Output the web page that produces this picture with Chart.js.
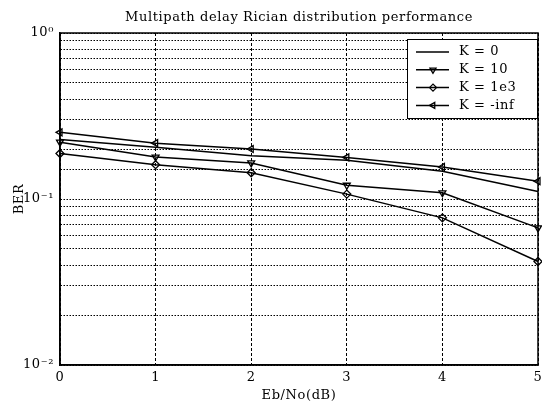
<!DOCTYPE html>
<html>
<head>
<meta charset="utf-8">
<script src="https://cdn.jsdelivr.net/npm/chart.js@4.4.0/dist/chart.umd.min.js"></script>
<style>
  html, body { margin: 0; padding: 0; background: #fff; overflow: hidden; }
  #wrap { width: 542px; height: 403px; overflow: hidden; }
  #box { width: 560px; height: 403px; }
</style>
</head>
<body>
<div id="wrap"><div id="box"><canvas id="c"></canvas></div></div>
<script>
// Eb/No in dB
const ebno = [0, 1, 2, 3, 4, 5];
// BER for each K value
const berK0 = [0.228, 0.205, 0.182, 0.171, 0.147, 0.111];
const berK10 = [0.220, 0.179, 0.165, 0.121, 0.109, 0.067];
const berK1e3 = [0.188, 0.161, 0.144, 0.107, 0.077, 0.042];
const berKinf = [0.252, 0.217, 0.200, 0.178, 0.156, 0.128];
const seriesNames = ['K = 0', 'K = 10', 'K = 1e3', 'K = -inf'];
const yTickLabels = { 1: '10\u2070', 0.1: '10\u207B\u00B9', 0.01: '10\u207B\u00B2' };

const serif = '"DejaVu Serif", "Liberation Serif", serif';
const spacing = '0.6px';

function pts(ys) { return ys.map((y, i) => ({ x: ebno[i], y: y })); }

const base = {
  borderColor: '#000',
  borderWidth: 1.5,
  pointBorderColor: '#000',
  pointBackgroundColor: 'rgba(0,0,0,0)',
  pointBorderWidth: 1.3,
  pointRadius: 4,
  tension: 0,
};

// frame, title and legend
const extras = {
  id: 'extras',
  beforeLayout(chart) { chart.ctx.letterSpacing = spacing; },
  beforeDraw(chart) { chart.ctx.letterSpacing = spacing; },
  afterDraw(chart) {
    const ctx = chart.ctx;
    const a = chart.chartArea;
    ctx.save();
    ctx.letterSpacing = spacing;
    ctx.strokeStyle = '#000';
    ctx.lineWidth = 1.5;
    ctx.strokeRect(a.left, a.top, a.right - a.left, a.bottom - a.top);

    ctx.fillStyle = '#000';
    ctx.font = '13px ' + serif;
    ctx.textAlign = 'center';
    ctx.textBaseline = 'middle';
    ctx.fillText('Multipath delay Rician distribution performance', 299, 18);

    // legend
    const lx = 407, ly = 39, lw = 130, lh = 79;
    ctx.fillStyle = '#fff';
    ctx.fillRect(lx, ly, lw, lh);
    ctx.strokeStyle = '#000';
    ctx.lineWidth = 1;
    ctx.strokeRect(lx + 0.5, ly + 0.5, lw, lh);
    chart.data.datasets.forEach((ds, i) => {
      const y = ly + 13 + i * 17.8;
      ctx.strokeStyle = '#000';
      ctx.lineWidth = 1.5;
      ctx.beginPath();
      ctx.moveTo(416, y);
      ctx.lineTo(449, y);
      ctx.stroke();
      if (ds.pointRadius > 0) {
        ctx.lineWidth = 1.3;
        ctx.fillStyle = 'rgba(0,0,0,0)';
        Chart.helpers.drawPoint(ctx, {
          pointStyle: ds.pointStyle, rotation: ds.pointRotation || 0,
          radius: 3.5, borderWidth: 1.3
        }, 433, y);
      }
      ctx.fillStyle = '#000';
      ctx.font = '13px ' + serif;
      ctx.textAlign = 'left';
      ctx.fillText(ds.label, 459, y);
    });
    ctx.restore();
  }
};

new Chart(document.getElementById('c'), {
  type: 'line',
  data: {
    datasets: [
      Object.assign({}, base, { label: seriesNames[0], data: pts(berK0), pointRadius: 0 }),
      Object.assign({}, base, { label: seriesNames[1], data: pts(berK10), pointStyle: 'triangle', pointRotation: 180 }),
      Object.assign({}, base, { label: seriesNames[2], data: pts(berK1e3), pointStyle: 'rectRot' }),
      Object.assign({}, base, { label: seriesNames[3], data: pts(berKinf), pointStyle: 'triangle', pointRotation: -90 }),
    ]
  },
  options: {
    responsive: true,
    maintainAspectRatio: false,
    animation: false,
    clip: false,
    layout: { padding: { top: 33, right: 22, left: 0, bottom: 0 } },
    plugins: { legend: { display: false }, title: { display: false }, tooltip: { enabled: false } },
    scales: {
      x: {
        type: 'linear',
        min: 0, max: 5,
        ticks: { stepSize: 1, color: '#000', font: { family: serif, size: 13 }, padding: 5 },
        grid: { color: '#000', lineWidth: 1, drawTicks: false },
        border: { display: true, color: '#000', width: 1.5, dash: [3, 2] },
        title: { display: true, text: 'Eb/No(dB)', color: '#000', font: { family: serif, size: 13 }, padding: { top: 0, bottom: 0 } },
        afterFit(s) { s.height = 38; }
      },
      y: {
        type: 'logarithmic',
        min: 0.01, max: 1,
        ticks: {
          color: '#000', font: { family: serif, size: 13 }, padding: 6, autoSkip: false,
          callback: (v) => yTickLabels[v] || ''
        },
        grid: { color: '#000', lineWidth: 1, drawTicks: false },
        border: { display: true, color: '#000', width: 1.5, dash: [1.5, 1.5] },
        title: { display: true, text: 'BER', color: '#000', font: { family: serif, size: 13 }, padding: { top: 12, bottom: 0 } },
        afterFit(s) { s.width = 60; }
      }
    }
  },
  plugins: [extras]
});
</script>
</body>
</html>
